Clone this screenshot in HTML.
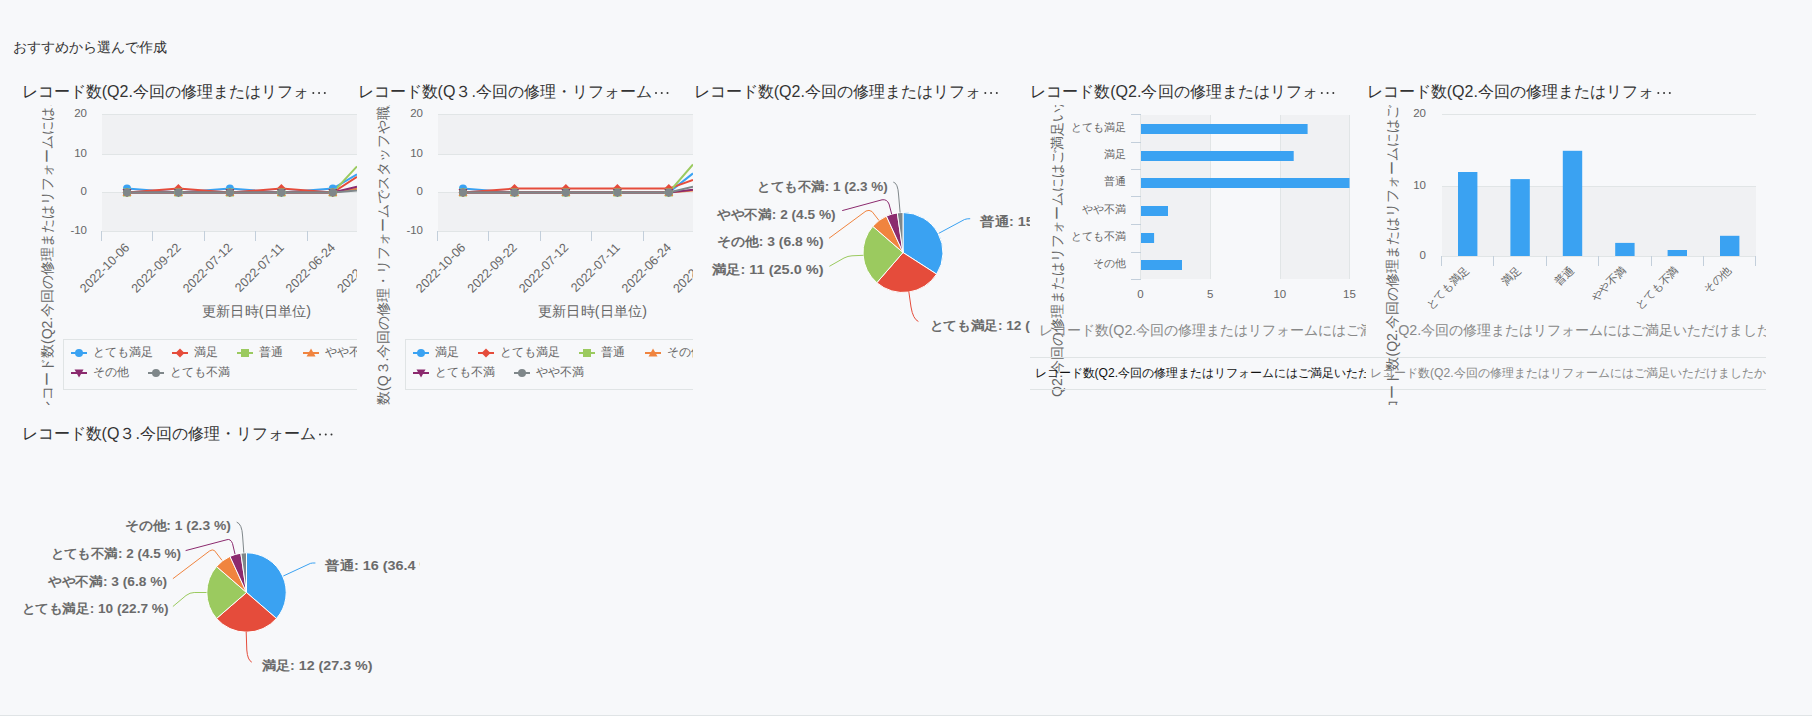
<!DOCTYPE html>
<html><head><meta charset="utf-8"><style>html,body{margin:0;padding:0;background:#f7f8fa;}svg{display:block;}</style></head>
<body><svg width="1812" height="716" viewBox="0 0 1812 716" font-family="'Liberation Sans', sans-serif">
<rect width="1812" height="716" fill="#f7f8fa"/>
<rect x="0" y="715" width="1812" height="1" fill="#e0e4e6"/>
<text x="13" y="52" font-size="14" fill="#333" textLength="154" lengthAdjust="spacingAndGlyphs" >おすすめから選んで作成</text>
<text x="21.5" y="97" font-size="16" fill="#333" textLength="288" lengthAdjust="spacingAndGlyphs" >レコード数(Q2.今回の修理またはリフォ</text>
<circle cx="313.30" cy="93" r="1" fill="#333"/>
<circle cx="319.05" cy="93" r="1" fill="#333"/>
<circle cx="324.80" cy="93" r="1" fill="#333"/>
<text x="357.5" y="97" font-size="16" fill="#333" textLength="294.5" lengthAdjust="spacingAndGlyphs" >レコード数(Q３.今回の修理・リフォーム</text>
<circle cx="656.00" cy="93" r="1" fill="#333"/>
<circle cx="661.75" cy="93" r="1" fill="#333"/>
<circle cx="667.50" cy="93" r="1" fill="#333"/>
<text x="693.5" y="97" font-size="16" fill="#333" textLength="288" lengthAdjust="spacingAndGlyphs" >レコード数(Q2.今回の修理またはリフォ</text>
<circle cx="985.30" cy="93" r="1" fill="#333"/>
<circle cx="991.05" cy="93" r="1" fill="#333"/>
<circle cx="996.80" cy="93" r="1" fill="#333"/>
<text x="1030" y="97" font-size="16" fill="#333" textLength="288" lengthAdjust="spacingAndGlyphs" >レコード数(Q2.今回の修理またはリフォ</text>
<circle cx="1321.80" cy="93" r="1" fill="#333"/>
<circle cx="1327.55" cy="93" r="1" fill="#333"/>
<circle cx="1333.30" cy="93" r="1" fill="#333"/>
<text x="1366.5" y="97" font-size="16" fill="#333" textLength="288" lengthAdjust="spacingAndGlyphs" >レコード数(Q2.今回の修理またはリフォ</text>
<circle cx="1658.30" cy="93" r="1" fill="#333"/>
<circle cx="1664.05" cy="93" r="1" fill="#333"/>
<circle cx="1669.80" cy="93" r="1" fill="#333"/>
<text x="21.5" y="438.5" font-size="16" fill="#333" textLength="294.5" lengthAdjust="spacingAndGlyphs" >レコード数(Q３.今回の修理・リフォーム</text>
<circle cx="320.00" cy="434.5" r="1" fill="#333"/>
<circle cx="325.75" cy="434.5" r="1" fill="#333"/>
<circle cx="331.50" cy="434.5" r="1" fill="#333"/>
<clipPath id="c1"><rect x="12" y="105" width="345" height="300"/></clipPath>
<g clip-path="url(#c1)">
<rect x="102" y="115" width="320" height="39" fill="#f0f1f3"/>
<rect x="102" y="193" width="320" height="38" fill="#f0f1f3"/>
<rect x="102" y="114" width="320" height="1" fill="#e1e5e6"/>
<rect x="102" y="154" width="320" height="1" fill="#e1e5e6"/>
<rect x="102" y="192" width="320" height="1" fill="#e1e5e6"/>
<rect x="102" y="231" width="320" height="1" fill="#e1e5e6"/>
<rect x="101" y="231" width="1" height="10" fill="#c3cfdb"/>
<rect x="152" y="231" width="1" height="10" fill="#c3cfdb"/>
<rect x="204" y="231" width="1" height="10" fill="#c3cfdb"/>
<rect x="255" y="231" width="1" height="10" fill="#c3cfdb"/>
<rect x="307" y="231" width="1" height="10" fill="#c3cfdb"/>
<rect x="358" y="231" width="1" height="10" fill="#c3cfdb"/>
<rect x="410" y="231" width="1" height="10" fill="#c3cfdb"/>
<text x="87" y="117" font-size="11.5" fill="#666" text-anchor="end" >20</text>
<text x="87" y="157" font-size="11.5" fill="#666" text-anchor="end" >10</text>
<text x="87" y="195" font-size="11.5" fill="#666" text-anchor="end" >0</text>
<text x="87" y="234" font-size="11.5" fill="#666" text-anchor="end" >-10</text>
<text x="124.0" y="242" font-size="12.5" fill="#666" text-anchor="end" transform="rotate(-45 124.0 242)" dominant-baseline="hanging">2022-10-06</text>
<text x="175.4" y="242" font-size="12.5" fill="#666" text-anchor="end" transform="rotate(-45 175.4 242)" dominant-baseline="hanging">2022-09-22</text>
<text x="226.9" y="242" font-size="12.5" fill="#666" text-anchor="end" transform="rotate(-45 226.9 242)" dominant-baseline="hanging">2022-07-12</text>
<text x="278.4" y="242" font-size="12.5" fill="#666" text-anchor="end" transform="rotate(-45 278.4 242)" dominant-baseline="hanging">2022-07-11</text>
<text x="329.8" y="242" font-size="12.5" fill="#666" text-anchor="end" transform="rotate(-45 329.8 242)" dominant-baseline="hanging">2022-06-24</text>
<text x="381.2" y="242" font-size="12.5" fill="#666" text-anchor="end" transform="rotate(-45 381.2 242)" dominant-baseline="hanging">2022-06-23</text>
<path d="M127.0 188.6 L178.4 192.5 L229.9 188.6 L281.4 192.5 L332.8 188.6 L357 174.4" fill="none" stroke="#3aa2f2" stroke-width="2"/>
<path d="M127.0 192.5 L178.4 188.6 L229.9 192.5 L281.4 188.6 L332.8 192.5 L357 176.9" fill="none" stroke="#e54c3b" stroke-width="2"/>
<path d="M127.0 192.5 L178.4 192.5 L229.9 192.5 L281.4 192.5 L332.8 192.5 L357 166.4" fill="none" stroke="#9bca5f" stroke-width="2"/>
<path d="M127.0 192.5 L178.4 192.5 L229.9 192.5 L281.4 192.5 L332.8 192.5 L357 188.8" fill="none" stroke="#f0843f" stroke-width="2"/>
<path d="M127.0 192.5 L178.4 192.5 L229.9 192.5 L281.4 192.5 L332.8 192.5 L357 186.7" fill="none" stroke="#8b2a6e" stroke-width="2"/>
<path d="M127.0 192.5 L178.4 192.5 L229.9 192.5 L281.4 192.5 L332.8 192.5 L357 190.5" fill="none" stroke="#7f878a" stroke-width="2"/>
<circle cx="127.0" cy="188.6" r="4" fill="#3aa2f2"/>
<circle cx="178.4" cy="192.5" r="4" fill="#3aa2f2"/>
<circle cx="229.9" cy="188.6" r="4" fill="#3aa2f2"/>
<circle cx="281.4" cy="192.5" r="4" fill="#3aa2f2"/>
<circle cx="332.8" cy="188.6" r="4" fill="#3aa2f2"/>
<path d="M127.0 188.0L131.5 192.5L127.0 197.0L122.5 192.5Z" fill="#e54c3b"/>
<path d="M178.4 184.1L182.9 188.6L178.4 193.1L173.9 188.6Z" fill="#e54c3b"/>
<path d="M229.9 188.0L234.4 192.5L229.9 197.0L225.4 192.5Z" fill="#e54c3b"/>
<path d="M281.4 184.1L285.9 188.6L281.4 193.1L276.9 188.6Z" fill="#e54c3b"/>
<path d="M332.8 188.0L337.3 192.5L332.8 197.0L328.3 192.5Z" fill="#e54c3b"/>
<rect x="123.0" y="188.5" width="8" height="8" fill="#9bca5f"/>
<rect x="174.4" y="188.5" width="8" height="8" fill="#9bca5f"/>
<rect x="225.9" y="188.5" width="8" height="8" fill="#9bca5f"/>
<rect x="277.4" y="188.5" width="8" height="8" fill="#9bca5f"/>
<rect x="328.8" y="188.5" width="8" height="8" fill="#9bca5f"/>
<path d="M127.0 188.0L131.5 196.0L122.5 196.0Z" fill="#f0843f"/>
<path d="M178.4 188.0L182.9 196.0L173.9 196.0Z" fill="#f0843f"/>
<path d="M229.9 188.0L234.4 196.0L225.4 196.0Z" fill="#f0843f"/>
<path d="M281.4 188.0L285.9 196.0L276.9 196.0Z" fill="#f0843f"/>
<path d="M332.8 188.0L337.3 196.0L328.3 196.0Z" fill="#f0843f"/>
<path d="M127.0 197.0L131.5 189.0L122.5 189.0Z" fill="#8b2a6e"/>
<path d="M178.4 197.0L182.9 189.0L173.9 189.0Z" fill="#8b2a6e"/>
<path d="M229.9 197.0L234.4 189.0L225.4 189.0Z" fill="#8b2a6e"/>
<path d="M281.4 197.0L285.9 189.0L276.9 189.0Z" fill="#8b2a6e"/>
<path d="M332.8 197.0L337.3 189.0L328.3 189.0Z" fill="#8b2a6e"/>
<circle cx="127.0" cy="192.5" r="4" fill="#7f878a"/>
<circle cx="178.4" cy="192.5" r="4" fill="#7f878a"/>
<circle cx="229.9" cy="192.5" r="4" fill="#7f878a"/>
<circle cx="281.4" cy="192.5" r="4" fill="#7f878a"/>
<circle cx="332.8" cy="192.5" r="4" fill="#7f878a"/>
<text x="256.5" y="316" font-size="14" fill="#666" text-anchor="middle" textLength="109" lengthAdjust="spacingAndGlyphs" >更新日時(日単位)</text>
<rect x="63.5" y="339.5" width="400" height="50" fill="none" stroke="#e0e4e5" stroke-width="1"/>
<rect x="71" y="352" width="16" height="2" fill="#3aa2f2"/>
<circle cx="79" cy="353" r="4" fill="#3aa2f2"/>
<text x="93" y="355.5" font-size="12" fill="#666" >とても満足</text>
<rect x="172" y="352" width="16" height="2" fill="#e54c3b"/>
<path d="M180 348.5L184.5 353L180 357.5L175.5 353Z" fill="#e54c3b"/>
<text x="194" y="355.5" font-size="12" fill="#666" >満足</text>
<rect x="237" y="352" width="16" height="2" fill="#9bca5f"/>
<rect x="241" y="349" width="8" height="8" fill="#9bca5f"/>
<text x="259" y="355.5" font-size="12" fill="#666" >普通</text>
<rect x="303" y="352" width="16" height="2" fill="#f0843f"/>
<path d="M311 348.5L315.5 356.5L306.5 356.5Z" fill="#f0843f"/>
<text x="325" y="355.5" font-size="12" fill="#666" >やや不満</text>
<rect x="71" y="372" width="16" height="2" fill="#8b2a6e"/>
<path d="M79 377.5L83.5 369.5L74.5 369.5Z" fill="#8b2a6e"/>
<text x="93" y="375.5" font-size="12" fill="#666" >その他</text>
<rect x="148" y="372" width="16" height="2" fill="#7f878a"/>
<circle cx="156" cy="373" r="4" fill="#7f878a"/>
<text x="170" y="375.5" font-size="12" fill="#666" >とても不満</text>
<text x="0" y="0" font-size="14" fill="#666" transform="translate(51.5 414) rotate(-90)">レコード数(Q2.今回の修理またはリフォームにはご満足いただけましたか)</text>
</g>
<clipPath id="c2"><rect x="348" y="105" width="345" height="300"/></clipPath>
<g clip-path="url(#c2)">
<rect x="438" y="115" width="320" height="39" fill="#f0f1f3"/>
<rect x="438" y="193" width="320" height="38" fill="#f0f1f3"/>
<rect x="438" y="114" width="320" height="1" fill="#e1e5e6"/>
<rect x="438" y="154" width="320" height="1" fill="#e1e5e6"/>
<rect x="438" y="192" width="320" height="1" fill="#e1e5e6"/>
<rect x="438" y="231" width="320" height="1" fill="#e1e5e6"/>
<rect x="437" y="231" width="1" height="10" fill="#c3cfdb"/>
<rect x="488" y="231" width="1" height="10" fill="#c3cfdb"/>
<rect x="540" y="231" width="1" height="10" fill="#c3cfdb"/>
<rect x="591" y="231" width="1" height="10" fill="#c3cfdb"/>
<rect x="643" y="231" width="1" height="10" fill="#c3cfdb"/>
<rect x="694" y="231" width="1" height="10" fill="#c3cfdb"/>
<rect x="746" y="231" width="1" height="10" fill="#c3cfdb"/>
<text x="423" y="117" font-size="11.5" fill="#666" text-anchor="end" >20</text>
<text x="423" y="157" font-size="11.5" fill="#666" text-anchor="end" >10</text>
<text x="423" y="195" font-size="11.5" fill="#666" text-anchor="end" >0</text>
<text x="423" y="234" font-size="11.5" fill="#666" text-anchor="end" >-10</text>
<text x="460.0" y="242" font-size="12.5" fill="#666" text-anchor="end" transform="rotate(-45 460.0 242)" dominant-baseline="hanging">2022-10-06</text>
<text x="511.5" y="242" font-size="12.5" fill="#666" text-anchor="end" transform="rotate(-45 511.5 242)" dominant-baseline="hanging">2022-09-22</text>
<text x="562.9" y="242" font-size="12.5" fill="#666" text-anchor="end" transform="rotate(-45 562.9 242)" dominant-baseline="hanging">2022-07-12</text>
<text x="614.4" y="242" font-size="12.5" fill="#666" text-anchor="end" transform="rotate(-45 614.4 242)" dominant-baseline="hanging">2022-07-11</text>
<text x="665.8" y="242" font-size="12.5" fill="#666" text-anchor="end" transform="rotate(-45 665.8 242)" dominant-baseline="hanging">2022-06-24</text>
<text x="717.2" y="242" font-size="12.5" fill="#666" text-anchor="end" transform="rotate(-45 717.2 242)" dominant-baseline="hanging">2022-06-23</text>
<path d="M463.0 188.6 L514.5 192.5 L565.9 192.5 L617.4 192.5 L668.8 192.5 L693 173.4" fill="none" stroke="#3aa2f2" stroke-width="2"/>
<path d="M463.0 192.5 L514.5 188.6 L565.9 188.6 L617.4 188.6 L668.8 188.6 L693 180" fill="none" stroke="#e54c3b" stroke-width="2"/>
<path d="M463.0 192.5 L514.5 192.5 L565.9 192.5 L617.4 192.5 L668.8 192.5 L693 164.5" fill="none" stroke="#9bca5f" stroke-width="2"/>
<path d="M463.0 192.5 L514.5 192.5 L565.9 192.5 L617.4 192.5 L668.8 192.5 L693 190.5" fill="none" stroke="#f0843f" stroke-width="2"/>
<path d="M463.0 192.5 L514.5 192.5 L565.9 192.5 L617.4 192.5 L668.8 192.5 L693 189.8" fill="none" stroke="#8b2a6e" stroke-width="2"/>
<path d="M463.0 192.5 L514.5 192.5 L565.9 192.5 L617.4 192.5 L668.8 192.5 L693 186.8" fill="none" stroke="#7f878a" stroke-width="2"/>
<circle cx="463.0" cy="188.6" r="4" fill="#3aa2f2"/>
<circle cx="514.5" cy="192.5" r="4" fill="#3aa2f2"/>
<circle cx="565.9" cy="192.5" r="4" fill="#3aa2f2"/>
<circle cx="617.4" cy="192.5" r="4" fill="#3aa2f2"/>
<circle cx="668.8" cy="192.5" r="4" fill="#3aa2f2"/>
<path d="M463.0 188.0L467.5 192.5L463.0 197.0L458.5 192.5Z" fill="#e54c3b"/>
<path d="M514.5 184.1L519.0 188.6L514.5 193.1L510.0 188.6Z" fill="#e54c3b"/>
<path d="M565.9 184.1L570.4 188.6L565.9 193.1L561.4 188.6Z" fill="#e54c3b"/>
<path d="M617.4 184.1L621.9 188.6L617.4 193.1L612.9 188.6Z" fill="#e54c3b"/>
<path d="M668.8 184.1L673.3 188.6L668.8 193.1L664.3 188.6Z" fill="#e54c3b"/>
<rect x="459.0" y="188.5" width="8" height="8" fill="#9bca5f"/>
<rect x="510.5" y="188.5" width="8" height="8" fill="#9bca5f"/>
<rect x="561.9" y="188.5" width="8" height="8" fill="#9bca5f"/>
<rect x="613.4" y="188.5" width="8" height="8" fill="#9bca5f"/>
<rect x="664.8" y="188.5" width="8" height="8" fill="#9bca5f"/>
<path d="M463.0 188.0L467.5 196.0L458.5 196.0Z" fill="#f0843f"/>
<path d="M514.5 188.0L519.0 196.0L510.0 196.0Z" fill="#f0843f"/>
<path d="M565.9 188.0L570.4 196.0L561.4 196.0Z" fill="#f0843f"/>
<path d="M617.4 188.0L621.9 196.0L612.9 196.0Z" fill="#f0843f"/>
<path d="M668.8 188.0L673.3 196.0L664.3 196.0Z" fill="#f0843f"/>
<path d="M463.0 197.0L467.5 189.0L458.5 189.0Z" fill="#8b2a6e"/>
<path d="M514.5 197.0L519.0 189.0L510.0 189.0Z" fill="#8b2a6e"/>
<path d="M565.9 197.0L570.4 189.0L561.4 189.0Z" fill="#8b2a6e"/>
<path d="M617.4 197.0L621.9 189.0L612.9 189.0Z" fill="#8b2a6e"/>
<path d="M668.8 197.0L673.3 189.0L664.3 189.0Z" fill="#8b2a6e"/>
<circle cx="463.0" cy="192.5" r="4" fill="#7f878a"/>
<circle cx="514.5" cy="192.5" r="4" fill="#7f878a"/>
<circle cx="565.9" cy="192.5" r="4" fill="#7f878a"/>
<circle cx="617.4" cy="192.5" r="4" fill="#7f878a"/>
<circle cx="668.8" cy="192.5" r="4" fill="#7f878a"/>
<text x="592.5" y="316" font-size="14" fill="#666" text-anchor="middle" textLength="109" lengthAdjust="spacingAndGlyphs" >更新日時(日単位)</text>
<rect x="405.5" y="339.5" width="400" height="50" fill="none" stroke="#e0e4e5" stroke-width="1"/>
<rect x="413" y="352" width="16" height="2" fill="#3aa2f2"/>
<circle cx="421" cy="353" r="4" fill="#3aa2f2"/>
<text x="435" y="355.5" font-size="12" fill="#666" >満足</text>
<rect x="478" y="352" width="16" height="2" fill="#e54c3b"/>
<path d="M486 348.5L490.5 353L486 357.5L481.5 353Z" fill="#e54c3b"/>
<text x="500" y="355.5" font-size="12" fill="#666" >とても満足</text>
<rect x="579" y="352" width="16" height="2" fill="#9bca5f"/>
<rect x="583" y="349" width="8" height="8" fill="#9bca5f"/>
<text x="601" y="355.5" font-size="12" fill="#666" >普通</text>
<rect x="645" y="352" width="16" height="2" fill="#f0843f"/>
<path d="M653 348.5L657.5 356.5L648.5 356.5Z" fill="#f0843f"/>
<text x="667" y="355.5" font-size="12" fill="#666" >その他</text>
<rect x="413" y="372" width="16" height="2" fill="#8b2a6e"/>
<path d="M421 377.5L425.5 369.5L416.5 369.5Z" fill="#8b2a6e"/>
<text x="435" y="375.5" font-size="12" fill="#666" >とても不満</text>
<rect x="514" y="372" width="16" height="2" fill="#7f878a"/>
<circle cx="522" cy="373" r="4" fill="#7f878a"/>
<text x="536" y="375.5" font-size="12" fill="#666" >やや不満</text>
<text x="0" y="0" font-size="14" fill="#666" transform="translate(387.5 461) rotate(-90)">レコード数(Q３.今回の修理・リフォームでスタッフや職人の対応はいかがでしたか)</text>
</g>
<clipPath id="p3"><rect x="693" y="105" width="337" height="300"/></clipPath>
<g clip-path="url(#p3)">
<path d="M903 252.5 L903.00 212.50 A40 40 0 0 1 936.65 274.13 Z" fill="#3aa2f2" stroke="#fff" stroke-width="1" stroke-linejoin="round"/>
<path d="M903 252.5 L936.65 274.13 A40 40 0 0 1 876.81 282.73 Z" fill="#e54c3b" stroke="#fff" stroke-width="1" stroke-linejoin="round"/>
<path d="M903 252.5 L876.81 282.73 A40 40 0 0 1 872.77 226.31 Z" fill="#9bca5f" stroke="#fff" stroke-width="1" stroke-linejoin="round"/>
<path d="M903 252.5 L872.77 226.31 A40 40 0 0 1 886.38 216.11 Z" fill="#f0843f" stroke="#fff" stroke-width="1" stroke-linejoin="round"/>
<path d="M903 252.5 L886.38 216.11 A40 40 0 0 1 897.31 212.91 Z" fill="#8b2a6e" stroke="#fff" stroke-width="1" stroke-linejoin="round"/>
<path d="M903 252.5 L897.31 212.91 A40 40 0 0 1 903.00 212.50 Z" fill="#7f878a" stroke="#fff" stroke-width="1" stroke-linejoin="round"/>
<path d="M900.1 212.6 L898.6 195 Q897.9 183 893.3 182.1" fill="none" stroke="#7f878a" stroke-width="1"/>
<path d="M891.7 214.1 L889 204 Q887 199 882 199.8 L842.2 210.6" fill="none" stroke="#8b2a6e" stroke-width="1"/>
<path d="M879 220.5 L872 211.5 Q869 209.5 866 211 L829 238.3" fill="none" stroke="#f0843f" stroke-width="1"/>
<path d="M863.3 255.3 L852 255.8 Q848 256 844 258 L829.4 266.3" fill="none" stroke="#9bca5f" stroke-width="1"/>
<path d="M908.8 291.5 L911 307 Q913 319 918.4 321.5" fill="none" stroke="#e54c3b" stroke-width="1"/>
<path d="M938.8 233.3 L964.5 219.5 Q967 218.6 970.2 218.7" fill="none" stroke="#3aa2f2" stroke-width="1"/>
<text x="757.3" y="190.5" font-size="13" fill="#6b6b6b" font-weight="bold" textLength="130.5" lengthAdjust="spacingAndGlyphs" >とても不満: 1 (2.3 %)</text>
<text x="717.1" y="218.5" font-size="13" fill="#6b6b6b" font-weight="bold" textLength="118.5" lengthAdjust="spacingAndGlyphs" >やや不満: 2 (4.5 %)</text>
<text x="717.1" y="246.2" font-size="13" fill="#6b6b6b" font-weight="bold" textLength="106.5" lengthAdjust="spacingAndGlyphs" >その他: 3 (6.8 %)</text>
<text x="711.5" y="274.2" font-size="13" fill="#6b6b6b" font-weight="bold" textLength="112" lengthAdjust="spacingAndGlyphs" >満足: 11 (25.0 %)</text>
<text x="980.2" y="225.9" font-size="13" fill="#6b6b6b" font-weight="bold" textLength="112" lengthAdjust="spacingAndGlyphs" >普通: 15 (34.1 %)</text>
<text x="929.5" y="329.5" font-size="13" fill="#6b6b6b" font-weight="bold" textLength="147.5" lengthAdjust="spacingAndGlyphs" >とても満足: 12 (27.3 %)</text>
</g>
<clipPath id="p6"><rect x="12" y="447" width="408" height="267"/></clipPath>
<g clip-path="url(#p6)">
<path d="M246.5 592.5 L246.50 552.80 A39.7 39.7 0 0 1 276.50 618.50 Z" fill="#3aa2f2" stroke="#fff" stroke-width="1" stroke-linejoin="round"/>
<path d="M246.5 592.5 L276.50 618.50 A39.7 39.7 0 0 1 216.50 618.50 Z" fill="#e54c3b" stroke="#fff" stroke-width="1" stroke-linejoin="round"/>
<path d="M246.5 592.5 L216.50 618.50 A39.7 39.7 0 0 1 216.50 566.50 Z" fill="#9bca5f" stroke="#fff" stroke-width="1" stroke-linejoin="round"/>
<path d="M246.5 592.5 L216.50 566.50 A39.7 39.7 0 0 1 230.01 556.39 Z" fill="#f0843f" stroke="#fff" stroke-width="1" stroke-linejoin="round"/>
<path d="M246.5 592.5 L230.01 556.39 A39.7 39.7 0 0 1 240.85 553.20 Z" fill="#8b2a6e" stroke="#fff" stroke-width="1" stroke-linejoin="round"/>
<path d="M246.5 592.5 L240.85 553.20 A39.7 39.7 0 0 1 246.50 552.80 Z" fill="#7f878a" stroke="#fff" stroke-width="1" stroke-linejoin="round"/>
<path d="M243.8 552.7 L242.6 536 Q242 524 236.7 522.1" fill="none" stroke="#7f878a" stroke-width="1"/>
<path d="M235 554 L232.5 543.5 Q230.5 538.5 227 539.7 L185.6 550.6" fill="none" stroke="#8b2a6e" stroke-width="1"/>
<path d="M222 560.3 L214.5 550.6 Q212.5 549 209.5 551 L172.9 578.7" fill="none" stroke="#f0843f" stroke-width="1"/>
<path d="M206.5 592.5 L194.2 592.5 Q190 592.5 186 595.5 L172.9 606.5" fill="none" stroke="#9bca5f" stroke-width="1"/>
<path d="M246.2 632 L246.8 650 Q247.5 660 251.8 662.2" fill="none" stroke="#e54c3b" stroke-width="1"/>
<path d="M283.3 576 L310.4 563.4 Q312.5 562.8 315.4 563" fill="none" stroke="#3aa2f2" stroke-width="1"/>
<text x="124.9" y="530.2" font-size="13" fill="#6b6b6b" font-weight="bold" textLength="106" lengthAdjust="spacingAndGlyphs" >その他: 1 (2.3 %)</text>
<text x="50.5" y="558.4" font-size="13" fill="#6b6b6b" font-weight="bold" textLength="130.5" lengthAdjust="spacingAndGlyphs" >とても不満: 2 (4.5 %)</text>
<text x="48" y="586.0" font-size="13" fill="#6b6b6b" font-weight="bold" textLength="119" lengthAdjust="spacingAndGlyphs" >やや不満: 3 (6.8 %)</text>
<text x="21.5" y="613.3" font-size="13" fill="#6b6b6b" font-weight="bold" textLength="147" lengthAdjust="spacingAndGlyphs" >とても満足: 10 (22.7 %)</text>
<text x="325.2" y="570.3" font-size="13" fill="#6b6b6b" font-weight="bold" textLength="112" lengthAdjust="spacingAndGlyphs" >普通: 16 (36.4 %)</text>
<text x="261.5" y="670.3" font-size="13" fill="#6b6b6b" font-weight="bold" textLength="111" lengthAdjust="spacingAndGlyphs" >満足: 12 (27.3 %)</text>
</g>
<clipPath id="b4"><rect x="1030" y="105" width="336" height="300"/></clipPath>
<g clip-path="url(#b4)">
<rect x="1141" y="115" width="69" height="164" fill="#f0f1f3"/>
<rect x="1281" y="115" width="68" height="164" fill="#f0f1f3"/>
<rect x="1140" y="115" width="1" height="164" fill="#e1e5e6"/>
<rect x="1210" y="115" width="1" height="164" fill="#e1e5e6"/>
<rect x="1280" y="115" width="1" height="164" fill="#e1e5e6"/>
<rect x="1349" y="115" width="1" height="164" fill="#e1e5e6"/>
<rect x="1131" y="114" width="10" height="1" fill="#c3cfdb"/>
<rect x="1131" y="142" width="10" height="1" fill="#c3cfdb"/>
<rect x="1131" y="169" width="10" height="1" fill="#c3cfdb"/>
<rect x="1131" y="196" width="10" height="1" fill="#c3cfdb"/>
<rect x="1131" y="224" width="10" height="1" fill="#c3cfdb"/>
<rect x="1131" y="252" width="10" height="1" fill="#c3cfdb"/>
<rect x="1131" y="279" width="10" height="1" fill="#c3cfdb"/>
<rect x="1141" y="124" width="166.6" height="10" fill="#3aa2f2"/>
<text x="1125.5" y="131" font-size="11" fill="#666" text-anchor="end" >とても満足</text>
<rect x="1141" y="151" width="152.7" height="10" fill="#3aa2f2"/>
<text x="1125.5" y="158" font-size="11" fill="#666" text-anchor="end" >満足</text>
<rect x="1141" y="178" width="208.5" height="10" fill="#3aa2f2"/>
<text x="1125.5" y="185" font-size="11" fill="#666" text-anchor="end" >普通</text>
<rect x="1141" y="206" width="27.0" height="10" fill="#3aa2f2"/>
<text x="1125.5" y="213" font-size="11" fill="#666" text-anchor="end" >やや不満</text>
<rect x="1141" y="233" width="13.1" height="10" fill="#3aa2f2"/>
<text x="1125.5" y="240" font-size="11" fill="#666" text-anchor="end" >とても不満</text>
<rect x="1141" y="260" width="41.0" height="10" fill="#3aa2f2"/>
<text x="1125.5" y="267" font-size="11" fill="#666" text-anchor="end" >その他</text>
<text x="1140.5" y="297.5" font-size="11.5" fill="#666" text-anchor="middle" >0</text>
<text x="1210.15" y="297.5" font-size="11.5" fill="#666" text-anchor="middle" >5</text>
<text x="1279.8" y="297.5" font-size="11.5" fill="#666" text-anchor="middle" >10</text>
<text x="1349.45" y="297.5" font-size="11.5" fill="#666" text-anchor="middle" >15</text>
<text x="0" y="0" font-size="14" fill="#666" transform="translate(1061.5 397) rotate(-90)">Q2.今回の修理またはリフォームにはご満足いただけましたか</text>
<text x="1038.5" y="335" font-size="14.3" fill="#888" >レコード数(Q2.今回の修理またはリフォームにはご満足いただけましたか</text>
<text x="1034.5" y="376.5" font-size="12.1" fill="#111" >レコード数(Q2.今回の修理またはリフォームにはご満足いただけましたか</text>
</g>
<rect x="1030" y="357" width="736" height="1" fill="#e0e4e5"/>
<rect x="1030" y="389" width="736" height="1" fill="#e0e4e5"/>
<clipPath id="b5"><rect x="1366" y="105" width="400" height="300"/></clipPath>
<g clip-path="url(#b5)">
<rect x="1442" y="187" width="314" height="69" fill="#f0f1f3"/>
<rect x="1442" y="114" width="314" height="1" fill="#e1e5e6"/>
<rect x="1442" y="186" width="314" height="1" fill="#e1e5e6"/>
<rect x="1442" y="256" width="314" height="1" fill="#e1e5e6"/>
<rect x="1441" y="256" width="1" height="10" fill="#c3cfdb"/>
<rect x="1493" y="256" width="1" height="10" fill="#c3cfdb"/>
<rect x="1546" y="256" width="1" height="10" fill="#c3cfdb"/>
<rect x="1598" y="256" width="1" height="10" fill="#c3cfdb"/>
<rect x="1651" y="256" width="1" height="10" fill="#c3cfdb"/>
<rect x="1703" y="256" width="1" height="10" fill="#c3cfdb"/>
<rect x="1755" y="256" width="1" height="10" fill="#c3cfdb"/>
<rect x="1458.0" y="172.0" width="19.4" height="84.0" fill="#3aa2f2"/>
<text x="1463.9" y="265.1" font-size="11" fill="#666" text-anchor="end" transform="rotate(-45 1463.9 265.1)" dominant-baseline="hanging">とても満足</text>
<rect x="1510.4" y="179.1" width="19.4" height="76.9" fill="#3aa2f2"/>
<text x="1516.3" y="265.1" font-size="11" fill="#666" text-anchor="end" transform="rotate(-45 1516.3 265.1)" dominant-baseline="hanging">満足</text>
<rect x="1562.8" y="150.8" width="19.4" height="105.2" fill="#3aa2f2"/>
<text x="1568.7" y="265.1" font-size="11" fill="#666" text-anchor="end" transform="rotate(-45 1568.7 265.1)" dominant-baseline="hanging">普通</text>
<rect x="1615.2" y="242.9" width="19.4" height="13.1" fill="#3aa2f2"/>
<text x="1621.1" y="265.1" font-size="11" fill="#666" text-anchor="end" transform="rotate(-45 1621.1 265.1)" dominant-baseline="hanging">やや不満</text>
<rect x="1667.6" y="250.0" width="19.4" height="6.0" fill="#3aa2f2"/>
<text x="1673.5" y="265.1" font-size="11" fill="#666" text-anchor="end" transform="rotate(-45 1673.5 265.1)" dominant-baseline="hanging">とても不満</text>
<rect x="1720.0" y="235.8" width="19.4" height="20.2" fill="#3aa2f2"/>
<text x="1725.9" y="265.1" font-size="11" fill="#666" text-anchor="end" transform="rotate(-45 1725.9 265.1)" dominant-baseline="hanging">その他</text>
<text x="1426" y="117" font-size="11.5" fill="#666" text-anchor="end" >20</text>
<text x="1426" y="189" font-size="11.5" fill="#666" text-anchor="end" >10</text>
<text x="1426" y="259" font-size="11.5" fill="#666" text-anchor="end" >0</text>
<text x="0" y="0" font-size="14" fill="#666" transform="translate(1396.5 426.5) rotate(-90)">レコード数(Q2.今回の修理またはリフォームにはご満足いただけましたか)</text>
<text x="1398.2" y="335" font-size="14.3" fill="#888" >Q2.今回の修理またはリフォームにはご満足いただけましたか</text>
<text x="1370" y="376.5" font-size="12.1" fill="#888" >レコード数(Q2.今回の修理またはリフォームにはご満足いただけましたか</text>
</g>
</svg></body></html>
